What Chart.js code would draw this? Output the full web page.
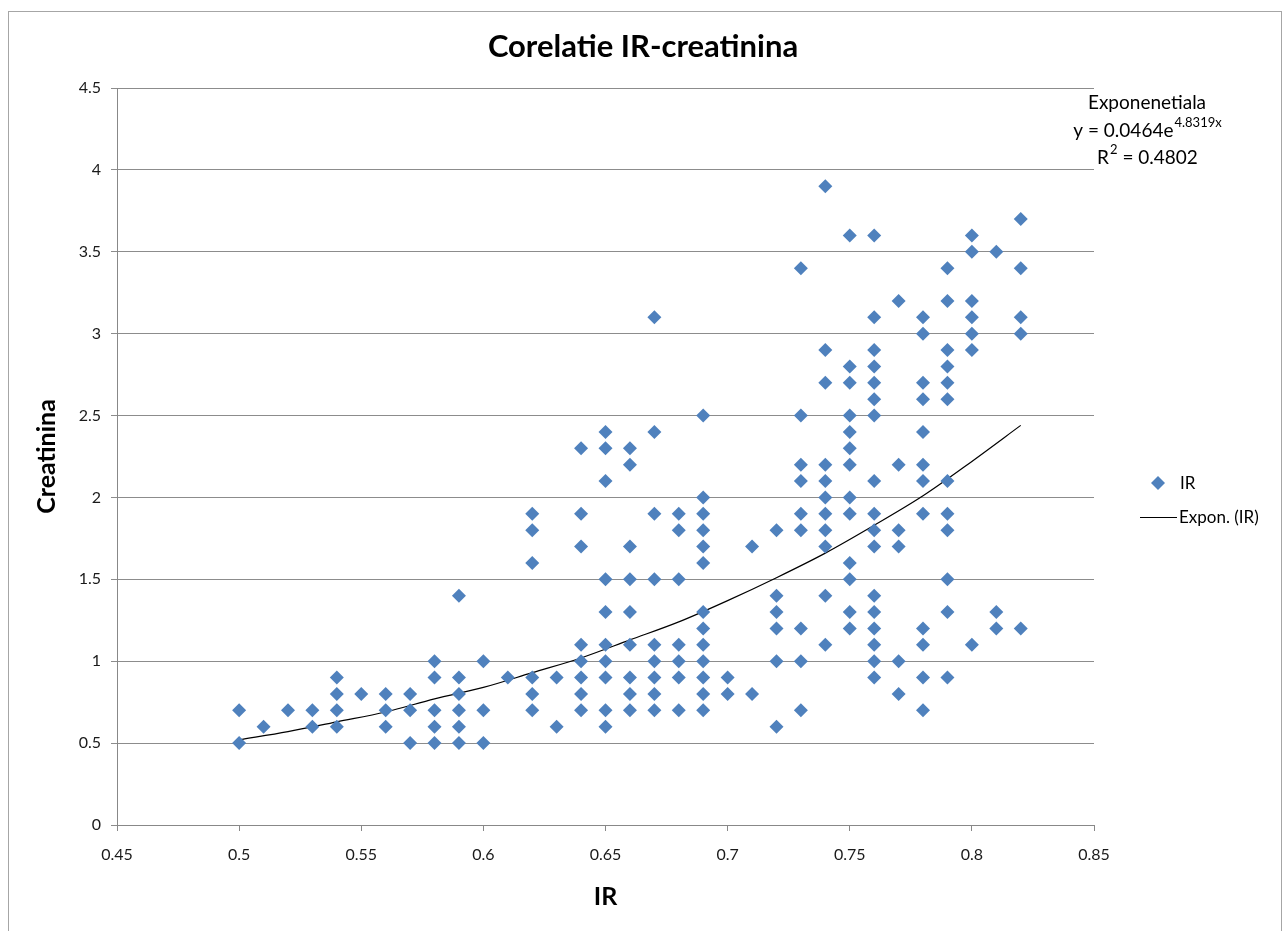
<!DOCTYPE html>
<html>
<head>
<meta charset="utf-8">
<script src="https://cdn.jsdelivr.net/npm/chart.js@4.4.0/dist/chart.umd.min.js"></script>
<style>
  html, body { margin: 0; padding: 0; background: #fff; }
  #wrap { width: 1284px; height: 931px; position: relative; }
</style>
</head>
<body>
<div id="wrap"><canvas id="chart"></canvas></div>
<script>
// valori IR (axa x) si creatinina citite pe coloane
const irValues = [0.50, 0.51, 0.52, 0.53, 0.54, 0.55, 0.56, 0.57, 0.58, 0.59, 0.60, 0.61, 0.62, 0.63, 0.64, 0.65, 0.66,
                  0.67, 0.68, 0.69, 0.70, 0.71, 0.72, 0.73, 0.74, 0.75, 0.76, 0.77, 0.78, 0.79, 0.80, 0.81, 0.82];
const creatininaValues = [
    [0.7, 0.5],
    [0.6],
    [0.7],
    [0.7, 0.6],
    [0.9, 0.8, 0.7, 0.6],
    [0.8],
    [0.8, 0.7, 0.6],
    [0.8, 0.7, 0.5],
    [1.0, 0.9, 0.7, 0.6, 0.5],
    [1.4, 0.9, 0.8, 0.7, 0.6, 0.5],
    [1.0, 0.7, 0.5],
    [0.9],
    [1.9, 1.8, 1.6, 0.9, 0.8, 0.7],
    [0.9, 0.6],
    [2.3, 1.9, 1.7, 1.1, 1.0, 0.9, 0.8, 0.7],
    [2.4, 2.3, 2.1, 1.5, 1.3, 1.1, 1.0, 0.9, 0.7, 0.6],
    [2.3, 2.2, 1.7, 1.5, 1.3, 1.1, 0.9, 0.8, 0.7],
    [3.1, 2.4, 1.9, 1.5, 1.1, 1.0, 0.9, 0.8, 0.7],
    [1.9, 1.8, 1.5, 1.1, 1.0, 0.9, 0.7],
    [2.5, 2.0, 1.9, 1.8, 1.7, 1.6, 1.3, 1.2, 1.1, 1.0, 0.9, 0.8, 0.7],
    [0.9, 0.8],
    [1.7, 0.8],
    [1.8, 1.4, 1.3, 1.2, 1.0, 0.6],
    [3.4, 2.5, 2.2, 2.1, 1.9, 1.8, 1.2, 1.0, 0.7],
    [3.9, 2.9, 2.7, 2.2, 2.1, 2.0, 1.9, 1.8, 1.7, 1.4, 1.1],
    [3.6, 2.8, 2.7, 2.5, 2.4, 2.3, 2.2, 2.0, 1.9, 1.6, 1.5, 1.3, 1.2],
    [3.6, 3.1, 2.9, 2.8, 2.7, 2.6, 2.5, 2.1, 1.9, 1.8, 1.7, 1.4, 1.3, 1.2, 1.1, 1.0, 0.9],
    [3.2, 2.2, 1.8, 1.7, 1.0, 0.8],
    [3.1, 3.0, 2.7, 2.6, 2.4, 2.2, 2.1, 1.9, 1.2, 1.1, 0.9, 0.7],
    [3.4, 3.2, 2.9, 2.8, 2.7, 2.6, 2.1, 1.9, 1.8, 1.5, 1.3, 0.9],
    [3.6, 3.5, 3.2, 3.1, 3.0, 2.9, 1.1],
    [3.5, 1.3, 1.2],
    [3.7, 3.4, 3.1, 3.0, 1.2]
];

// linia de trend exponentiala
const trendIR = [0.50, 0.52, 0.54, 0.56, 0.58, 0.60, 0.62, 0.64, 0.66, 0.68, 0.70, 0.72, 0.74, 0.76, 0.78, 0.80, 0.82];
const trendCreatinina = [0.52, 0.57, 0.63, 0.69, 0.77, 0.84, 0.93, 1.02, 1.13, 1.24, 1.37, 1.51, 1.66, 1.83, 2.01, 2.22, 2.44];

const xTicks = [0.45, 0.5, 0.55, 0.6, 0.65, 0.7, 0.75, 0.8, 0.85];
const yTicks = [0, 0.5, 1, 1.5, 2, 2.5, 3, 3.5, 4, 4.5];

const chartTitle = 'Corelatie IR-creatinina';
const xTitle = 'IR';
const yTitle = 'Creatinina';
const trendName = 'Exponenetiala';
const trendEq = ['y = 0.0464e', '4.8319x'];
const trendR2 = ['R', '2', ' = 0.4802'];
const legendLabels = ['IR', 'Expon. (IR)'];

const FONT = 'Lato, "Open Sans", sans-serif';
const BLUE = '#4F81BD';

const scatterPoints = [];
irValues.forEach((ir, i) => {
    creatininaValues[i].forEach(c => scatterPoints.push({ x: ir, y: c }));
});
const trendPoints = trendIR.map((ir, i) => ({ x: ir, y: trendCreatinina[i] }));

const decorPlugin = {
    id: 'decor',
    beforeDraw(chart) {
        const ctx = chart.ctx;
        ctx.save();
        ctx.fillStyle = '#fff';
        ctx.fillRect(0, 0, chart.width, chart.height);
        ctx.restore();
    },
    afterDraw(chart) {
        const ctx = chart.ctx;
        ctx.save();
        // rama
        ctx.strokeStyle = '#a6a6a6';
        ctx.lineWidth = 1;
        ctx.strokeRect(8.5, 11.5, 1273, 940);

        // titlu
        ctx.fillStyle = '#000';
        ctx.textAlign = 'center';
        ctx.textBaseline = 'middle';
        ctx.font = `bold 31px ${FONT}`;
        ctx.fillText(chartTitle, 643, 47);

        // ecuatia trendului
        const cx = 1147;
        const big = `19px ${FONT}`;
        const small = `13px ${FONT}`;
        ctx.font = big;
        ctx.fillText(trendName, cx, 103);

        ctx.font = big;
        const w1 = ctx.measureText(trendEq[0]).width;
        ctx.font = small;
        const w2 = ctx.measureText(trendEq[1]).width;
        let sx = cx - (w1 + w2) / 2;
        ctx.textAlign = 'left';
        ctx.font = big;
        ctx.fillText(trendEq[0], sx, 131);
        ctx.font = small;
        ctx.fillText(trendEq[1], sx + w1 + 1, 123);

        ctx.font = big;
        const r1 = ctx.measureText(trendR2[0]).width;
        const r3 = ctx.measureText(trendR2[2]).width;
        ctx.font = small;
        const r2 = ctx.measureText(trendR2[1]).width;
        sx = cx - (r1 + r2 + r3) / 2;
        ctx.font = big;
        ctx.fillText(trendR2[0], sx, 158);
        ctx.font = small;
        ctx.fillText(trendR2[1], sx + r1 + 1, 150);
        ctx.font = big;
        ctx.fillText(trendR2[2], sx + r1 + r2 + 1, 158);

        // legenda
        ctx.fillStyle = BLUE;
        ctx.beginPath();
        ctx.moveTo(1158, 476);
        ctx.lineTo(1165, 483);
        ctx.lineTo(1158, 490);
        ctx.lineTo(1151, 483);
        ctx.closePath();
        ctx.fill();
        ctx.fillStyle = '#000';
        ctx.font = `17px ${FONT}`;
        ctx.fillText(legendLabels[0], 1180, 484);
        ctx.strokeStyle = '#000';
        ctx.beginPath();
        ctx.moveTo(1140, 517.5);
        ctx.lineTo(1177, 517.5);
        ctx.stroke();
        ctx.fillText(legendLabels[1], 1179, 518);
        ctx.restore();
    }
};

const fmt = v => String(parseFloat(Number(v).toFixed(2)));

new Chart(document.getElementById('chart'), {
    type: 'scatter',
    data: {
        datasets: [
            {
                label: legendLabels[0],
                data: scatterPoints,
                pointStyle: 'rectRot',
                pointRadius: 7,
                pointHoverRadius: 7,
                backgroundColor: BLUE,
                borderColor: BLUE,
                borderWidth: 0
            },
            {
                label: legendLabels[1],
                type: 'line',
                data: trendPoints,
                showLine: true,
                pointRadius: 0,
                borderColor: '#000',
                borderWidth: 1.2,
                cubicInterpolationMode: 'monotone',
                fill: false
            }
        ]
    },
    options: {
        responsive: true,
        maintainAspectRatio: false,
        animation: false,
        layout: { padding: { top: 88, right: 190, bottom: 0, left: 0 } },
        plugins: {
            legend: { display: false },
            tooltip: { enabled: false },
            title: { display: false }
        },
        scales: {
            x: {
                type: 'linear',
                min: 0.45,
                max: 0.85,
                afterFit(scale) { scale.height = 106; },
                afterBuildTicks(scale) { scale.ticks = xTicks.map(v => ({ value: v })); },
                ticks: { callback: fmt, font: { family: FONT, size: 16 }, color: '#1a1a1a', padding: 14, maxRotation: 0 },
                grid: { drawOnChartArea: false, drawTicks: true, tickLength: 6, color: '#888' },
                border: { color: '#888', width: 1 },
                title: { display: true, text: xTitle, font: { family: FONT, size: 25, weight: 'bold' }, color: '#000', padding: { top: 0, bottom: 19 } }
            },
            y: {
                type: 'linear',
                min: 0,
                max: 4.5,
                afterFit(scale) { scale.width = 117; },
                afterBuildTicks(scale) { scale.ticks = yTicks.map(v => ({ value: v })); },
                ticks: { callback: fmt, font: { family: FONT, size: 16 }, color: '#1a1a1a', padding: 10 },
                grid: { color: '#8c8c8c', lineWidth: 1, tickLength: 6 },
                border: { color: '#888', width: 1 },
                title: { display: true, text: yTitle, font: { family: FONT, size: 25, weight: 'bold' }, color: '#000', padding: { top: 32, bottom: 0 } }
            }
        }
    },
    plugins: [decorPlugin]
});
</script>
</body>
</html>
